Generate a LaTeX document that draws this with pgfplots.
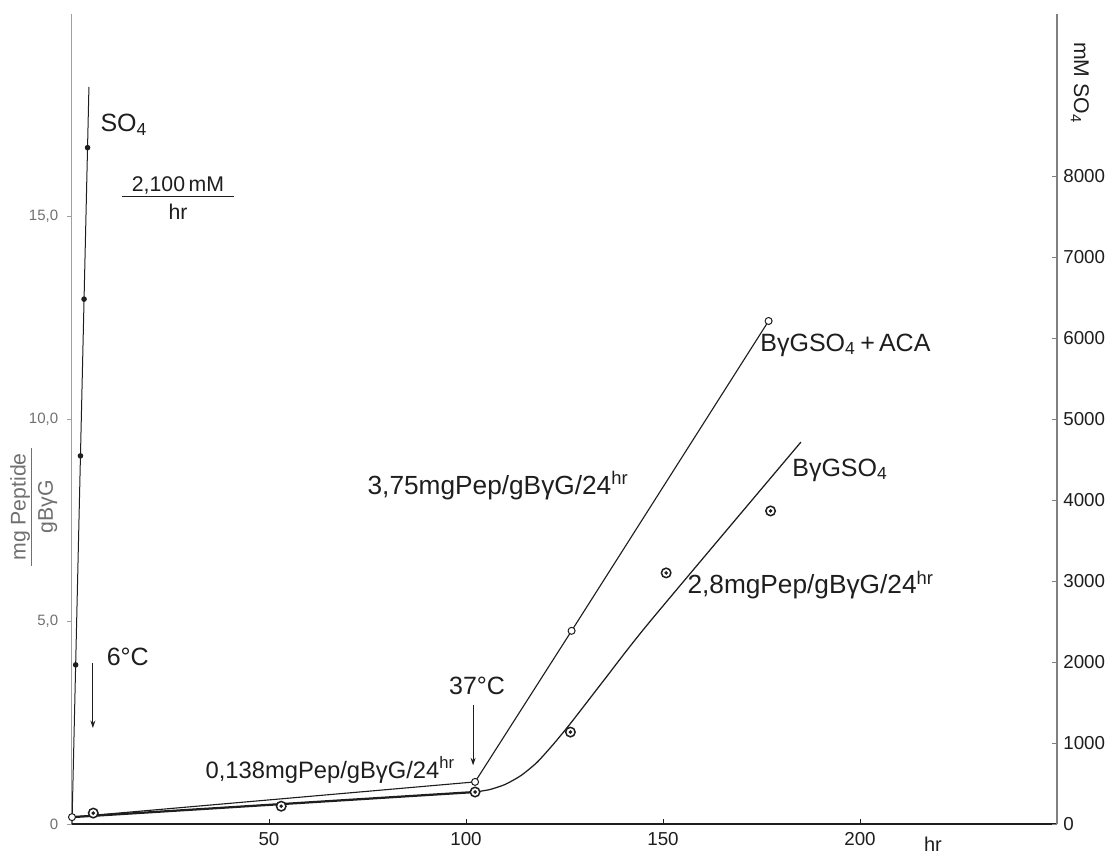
\documentclass[border=0pt]{standalone}
\usepackage{fontspec}
\setmainfont{Liberation Sans}
\usepackage{pgfplots}
\pgfplotsset{compat=1.18}
\usetikzlibrary{arrows.meta}
\definecolor{ink}{HTML}{1E1E1E}
\definecolor{axgray}{HTML}{A0A0A0}
\definecolor{lblgray}{HTML}{707070}
\definecolor{rgray}{HTML}{808080}
\begin{document}
\begin{tikzpicture}
\begin{axis}[
  at={(28.8pt,11.6pt)}, anchor=south west,
  scale only axis, width=394pt, height=324pt,
  xmin=0, xmax=250, ymin=0, ymax=20,
  axis x line*=bottom, axis y line*=left,
  x axis line style={ink, line width=0.6pt, -},
  y axis line style={axgray, line width=0.4pt, -},
  xtick={50,100,150,200}, xticklabels={50,100,150,200},
  ytick={0,5,10,15}, yticklabels={0,{5,0},{10,0},{15,0}},
  scaled x ticks=false, scaled y ticks=false,
  xtick align=inside, ytick align=outside,
  major tick length=2pt,
  x tick style={ink, line width=0.4pt},
  y tick style={axgray, line width=0.4pt},
  xticklabel style={font=\fontsize{7.5}{8}\selectfont, text=ink},
  yticklabel style={font=\fontsize{6}{7}\selectfont, text=lblgray},
  clip=false,
]
% SO4 line and points
\addplot[ink, line width=0.4pt] coordinates {(0,0) (4.3,18.2)};
\addplot[only marks, mark=*, mark size=0.9pt, ink] coordinates {(0.93,3.93) (2.15,9.09) (3.06,12.96) (3.95,16.7)};
% ACA series
\addplot[ink, line width=0.45pt, mark=*, mark size=1.4pt, mark options={fill=white, draw=ink, line width=0.4pt}]
  coordinates {(0,0.17) (102.3,1.04) (126.8,4.77) (176.8,12.42)};
% BgG SO4 series: thick low part
\addplot[ink, line width=0.9pt] coordinates {(0,0.17) (102.3,0.79)};
% rising curve
\addplot[ink, line width=0.5pt, smooth, tension=0.4] coordinates {(102.3,0.79) (106,0.85) (110,0.98) (114,1.2) (118,1.52) (122,1.95) (126,2.42) (130,2.92) (135,3.55) (146.7,5.0) (185,9.43)};
% bullseye markers
\addplot[only marks, mark=*, mark size=1.9pt, mark options={fill=white, draw=ink, line width=0.6pt}]
  coordinates {(5.4,0.27) (53.1,0.44) (102.3,0.79) (126.5,2.27) (150.8,6.2) (177.3,7.73)};
\addplot[only marks, mark=*, mark size=0.5pt, ink]
  coordinates {(5.4,0.27) (53.1,0.44) (102.3,0.79) (126.5,2.27) (150.8,6.2) (177.3,7.73)};
% annotations
\node[anchor=west, font=\fontsize{10}{12}\selectfont, text=ink] at (axis cs:5.0,17.26) {SO\textsubscript{4}};
\node[font=\fontsize{8.5}{10}\selectfont, text=ink, inner sep=0pt] at (axis cs:26.9,15.4)
  {\begin{tabular}{@{\hspace{4pt}}c@{\hspace{4pt}}}2,100\,mM\\[-1pt]\hline\rule{0pt}{9pt}hr\end{tabular}};
\node[anchor=west, font=\fontsize{10}{12}\selectfont, text=ink] at (axis cs:6.6,4.12) {6°C};
\draw[ink, line width=0.4pt, -{Stealth[length=3pt,width=2pt]}] (axis cs:5.3,3.98) -- (axis cs:5.3,2.37);
\node[font=\fontsize{10}{12}\selectfont, text=ink] at (axis cs:102.8,3.4) {37°C};
\draw[ink, line width=0.4pt, -{Stealth[length=3pt,width=2pt]}] (axis cs:101.8,2.95) -- (axis cs:101.8,1.45);
\node[anchor=west, font=\fontsize{9.5}{11}\selectfont, text=ink, inner sep=0pt] at (axis cs:33.8,1.33) {0,138mgPep/gBγG/24\textsuperscript{hr}};
\node[anchor=west, font=\fontsize{10.5}{12}\selectfont, text=ink, inner sep=0pt] at (axis cs:74.9,8.35) {3,75mgPep/gBγG/24\textsuperscript{hr}};
\node[anchor=west, font=\fontsize{10.5}{12}\selectfont, text=ink, inner sep=0pt] at (axis cs:156.1,5.9) {2,8mgPep/gBγG/24\textsuperscript{hr}};
\node[anchor=west, font=\fontsize{10}{12}\selectfont, text=ink, inner sep=0pt] at (axis cs:174.6,11.83) {BγGSO\textsubscript{4}\,+\,ACA};
\node[anchor=west, font=\fontsize{10}{12}\selectfont, text=ink, inner sep=0pt] at (axis cs:182.7,8.74) {BγGSO\textsubscript{4}};
\node[font=\fontsize{8}{10}\selectfont, text=ink] at (axis cs:218.5,-0.5) {hr};
\node[rotate=90, font=\fontsize{8.5}{10}\selectfont, text=lblgray, inner sep=0pt] at (axis cs:-9.6,7.83)
  {\begin{tabular}{@{\hspace{2pt}}c@{\hspace{2pt}}}mg Peptide\\[-1pt]\hline\rule{0pt}{8.5pt}gBγG\end{tabular}};
\node[rotate=-90, font=\fontsize{8.5}{10}\selectfont, text=ink, inner sep=0pt] at (axis cs:255.8,18.3) {mM SO\textsubscript{4}};
\end{axis}
\begin{axis}[
  at={(28.8pt,11.6pt)}, anchor=south west,
  scale only axis, width=394pt, height=324pt,
  xmin=0, xmax=250, ymin=0, ymax=10000,
  axis x line=none, axis y line*=right,
  y axis line style={rgray, line width=0.5pt, -},
  ytick={0,1000,2000,3000,4000,5000,6000,7000,8000},
  yticklabels={0,1000,2000,3000,4000,5000,6000,7000,8000},
  scaled y ticks=false,
  ytick align=inside, major tick length=2pt,
  y tick style={rgray, line width=0.4pt},
  yticklabel style={font=\fontsize{7.5}{8}\selectfont, text=ink, xshift=-1pt},
]
\addplot[draw=none] coordinates {(0,0)};
\end{axis}
\pgfresetboundingbox
\useasboundingbox (0,0) rectangle (443.6pt,341.2pt);
\end{tikzpicture}
\end{document}
